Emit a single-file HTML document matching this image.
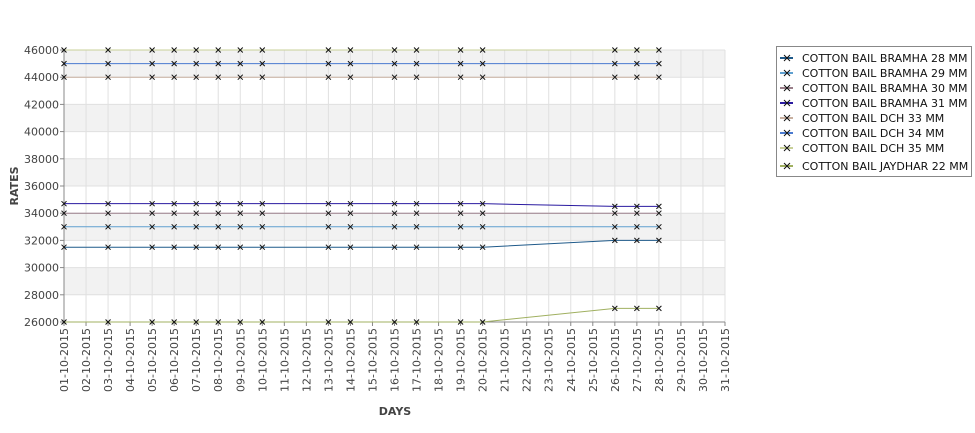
<!DOCTYPE html>
<html><head><meta charset="utf-8"><style>
body{margin:0;background:#fff;font-family:"DejaVu Sans","Liberation Sans",sans-serif;}
svg text{font-family:"DejaVu Sans","Liberation Sans",sans-serif;}
</style></head><body>
<svg id="c" width="975" height="429" xmlns="http://www.w3.org/2000/svg"></svg>
<script>
const days = [1,3,5,6,7,8,9,10,13,14,16,17,19,20,26,27,28];
const seriesNames = ["COTTON BAIL BRAMHA 28 MM","COTTON BAIL BRAMHA 29 MM","COTTON BAIL BRAMHA 30 MM","COTTON BAIL BRAMHA 31 MM","COTTON BAIL DCH 33 MM","COTTON BAIL DCH 34 MM","COTTON BAIL DCH 35 MM","COTTON BAIL JAYDHAR 22 MM"];
const b28 = [31500,31500,31500,31500,31500,31500,31500,31500,31500,31500,31500,31500,31500,31500,32000,32000,32000];
const b29 = [33000,33000,33000,33000,33000,33000,33000,33000,33000,33000,33000,33000,33000,33000,33000,33000,33000];
const b30 = [34000,34000,34000,34000,34000,34000,34000,34000,34000,34000,34000,34000,34000,34000,34000,34000,34000];
const b31 = [34700,34700,34700,34700,34700,34700,34700,34700,34700,34700,34700,34700,34700,34700,34500,34500,34500];
const d33 = [44000,44000,44000,44000,44000,44000,44000,44000,44000,44000,44000,44000,44000,44000,44000,44000,44000];
const d34 = [45000,45000,45000,45000,45000,45000,45000,45000,45000,45000,45000,45000,45000,45000,45000,45000,45000];
const d35 = [46000,46000,46000,46000,46000,46000,46000,46000,46000,46000,46000,46000,46000,46000,46000,46000,46000];
const j22 = [26000,26000,26000,26000,26000,26000,26000,26000,26000,26000,26000,26000,26000,26000,27000,27000,27000];
const yTicks = [26000,28000,30000,32000,34000,36000,38000,40000,42000,44000,46000];
const xTickDays = Array.from({length:31},(_,i)=>i+1);

const allSeries=[b28,b29,b30,b31,d33,d34,d35,j22];
const colors=["#1f5a8a","#5fa0d0","#9a7f8a","#2a1aa0","#c8b0a0","#4a7ad0","#c8d098","#a0b060"];
const L=64,R=725,T=50,B=322;
const xS=d=>L+(d-1)*(R-L)/30;
const yS=v=>B-(v-26000)*(B-T)/20000;
const svg=document.getElementById('c');
const NS="http://www.w3.org/2000/svg";
function mk(t,a,p){const e=document.createElementNS(NS,t);for(const k in a)e.setAttribute(k,a[k]);(p||svg).appendChild(e);return e;}
// bands
for(let v=28000;v<46000;v+=4000){
 const r=mk('rect',{x:L,y:yS(v+2000),width:R-L,height:yS(v)-yS(v+2000),fill:'#f2f2f2'});
 
 
}
for(const d of xTickDays){
 const l=mk('line',{x1:xS(d),x2:xS(d),y1:T,y2:B,stroke:'#e0e0e0'});
 
 
 const tk=mk('line',{x1:xS(d),x2:xS(d),y1:B,y2:B+4,stroke:'#888'});
 
 
 const t=mk('text',{x:0,y:0,transform:`translate(${xS(d)+4},${B+6}) rotate(-90)`,'text-anchor':'end','font-size':'11',fill:'#444'});
 t.textContent=String(d).padStart(2,'0')+'-10-2015';
 
 
}
for(const v of yTicks){
 const l=mk('line',{x1:L,x2:R,y1:yS(v),y2:yS(v),stroke:'#e0e0e0'});
 
 
 const tk=mk('line',{x1:L-4,x2:L,y1:yS(v),y2:yS(v),stroke:'#888'});
 
 
 const t=mk('text',{x:L-5,y:yS(v)+4,'text-anchor':'end','font-size':'11',fill:'#444'});
 t.textContent=v;
 
 
}
const ax=mk('path',{d:`M${L} ${T}V${B}H${R}`,stroke:'#888',fill:'none'});


allSeries.forEach((s,i)=>{
 const g=mk('g',{});
 
 
 mk('polyline',{points:s.map((v,k)=>xS(days[k])+','+yS(v)).join(' '),fill:'none',stroke:colors[i],'stroke-width':1},g);
 s.forEach((v,k)=>{
  const x=xS(days[k]),y=yS(v);
  const m=mk('path',{d:`M${x-2.5} ${y-2.5}L${x+2.5} ${y+2.5}M${x-2.5} ${y+2.5}L${x+2.5} ${y-2.5}`,stroke:'#111','stroke-width':1},g);
  
  
 });
});
const yt=mk('text',{x:0,y:0,transform:'translate(18,186) rotate(-90)','text-anchor':'middle','font-size':'11','font-weight':'bold',fill:'#444'});
yt.textContent='RATES';


const xt=mk('text',{x:395,y:415,'text-anchor':'middle','font-size':'11','font-weight':'bold',fill:'#444'});
xt.textContent='DAYS';


const lg=mk('g',{});


mk('rect',{x:776.5,y:46.5,width:195,height:130,fill:'#fff',stroke:'#888'},lg);
const ly=[58,73,88,103,118,133,148,166];
seriesNames.forEach((n,i)=>{
 const y=ly[i];
 const e=mk('g',{},lg);
 
 
 mk('line',{x1:780,x2:793,y1:y,y2:y,stroke:colors[i],'stroke-width':2},e);
 mk('path',{d:`M${784} ${y-3}L${790} ${y+3}M${784} ${y+3}L${790} ${y-3}`,stroke:'#111'},e);
 const t=mk('text',{x:802,y:y+4,'font-size':'11',fill:'#111'},e);
 t.textContent=n;
});
</script>
</body></html>
